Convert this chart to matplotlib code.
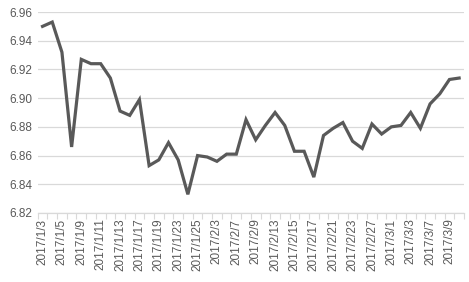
import matplotlib
matplotlib.use("Agg")
import matplotlib.pyplot as plt
import numpy as np

dates = ["2017/1/3", "2017/1/4", "2017/1/5", "2017/1/6", "2017/1/9", "2017/1/10",
         "2017/1/11", "2017/1/12", "2017/1/13", "2017/1/16", "2017/1/17", "2017/1/18",
         "2017/1/19", "2017/1/20", "2017/1/23", "2017/1/24", "2017/1/25", "2017/1/26",
         "2017/2/3", "2017/2/6", "2017/2/7", "2017/2/8", "2017/2/9", "2017/2/10",
         "2017/2/13", "2017/2/14", "2017/2/15", "2017/2/16", "2017/2/17", "2017/2/20",
         "2017/2/21", "2017/2/22", "2017/2/23", "2017/2/24", "2017/2/27", "2017/2/28",
         "2017/3/1", "2017/3/2", "2017/3/3", "2017/3/6", "2017/3/7", "2017/3/8",
         "2017/3/9", "2017/3/10"]
values = [6.950, 6.953, 6.932, 6.866, 6.927, 6.924,
          6.924, 6.914, 6.891, 6.888, 6.899, 6.853,
          6.857, 6.869, 6.857, 6.833, 6.860, 6.859,
          6.856, 6.861, 6.861, 6.885, 6.871, 6.881,
          6.890, 6.881, 6.863, 6.863, 6.845, 6.874,
          6.879, 6.883, 6.870, 6.865, 6.882, 6.875,
          6.880, 6.881, 6.890, 6.879, 6.896, 6.903,
          6.913, 6.914]
y_ticks = [6.82, 6.84, 6.86, 6.88, 6.90, 6.92, 6.94, 6.96]

plt.rcParams['font.family'] = ['Liberation Sans', 'DejaVu Sans']

fig = plt.figure(figsize=(4.69, 2.82), dpi=100)
ax = fig.add_axes([0.0804, 0.2447, 0.9089, 0.7127])

x = np.arange(len(dates))
ax.plot(x, values, color="#595959", linewidth=2.3, solid_joinstyle="miter", zorder=3)

ax.set_xlim(-0.5, len(dates) - 0.5)
ax.set_ylim(6.82, 6.96)
ax.set_yticks(y_ticks)
ax.set_yticklabels([f"{v:.2f}" for v in y_ticks])
ax.yaxis.grid(True, color="#d9d9d9", linewidth=0.9)
ax.set_axisbelow(True)

# x labels every other category
ax.set_xticks(x[::2])
ax.set_xticklabels(dates[::2], rotation=90)
ax.set_xticks(np.arange(len(dates) + 1) - 0.5, minor=True)
ax.tick_params(axis="x", which="major", length=0, pad=4, labelsize=8.5, colors="#595959")
ax.tick_params(axis="x", which="minor", length=4, width=0.8, color="#d9d9d9")
ax.tick_params(axis="y", length=0, pad=4, labelsize=8.5, colors="#595959")

for s in ["top", "right", "left"]:
    ax.spines[s].set_visible(False)
ax.spines["bottom"].set_color("#d9d9d9")
ax.spines["bottom"].set_linewidth(0.9)

fig.savefig("out.png", dpi=100)
